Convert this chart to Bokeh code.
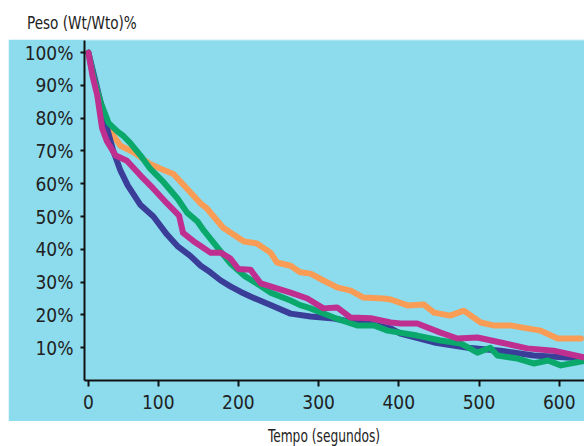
from bokeh.plotting import figure
from bokeh.models import Div, FixedTicker, Range1d
from bokeh.layouts import column
from bokeh.embed import file_html
from bokeh.resources import INLINE

# ---- data (seconds, weight %) ----
navy_t = [13, 20, 26, 35, 44, 53, 62, 78, 94, 111, 124, 140, 153, 165, 178, 190, 203, 215, 240, 265, 290, 319, 340, 361, 390, 402, 444, 486, 527, 568, 610, 632]
navy_v = [100, 93, 87, 78, 70, 64, 59.5, 53.5, 50, 44.5, 41, 38, 35, 33, 30.5, 28.7, 27, 25.6, 23, 20.4, 19.5, 18.9, 17.9, 17.4, 15.9, 14.3, 11.6, 10, 9.1, 7.6, 7, 6.8]

green_t = [13, 20, 28, 38, 49, 57, 65, 78, 90, 107, 124, 136, 149, 157, 174, 190, 207, 223, 240, 265, 277, 290, 319, 348, 369, 386, 423, 452, 477, 498, 514, 523, 548, 568, 586, 602, 627, 632]
green_v = [100, 92, 85, 78.6, 76, 74.5, 72.5, 68.6, 64.6, 60.4, 55.5, 51.2, 48.5, 45.7, 40.5, 35.7, 32, 29.6, 26.8, 24.4, 23, 22, 19.2, 16.8, 16.8, 15.2, 13.7, 12.2, 11.3, 8.5, 10, 7.6, 6.7, 5.2, 6.1, 4.6, 5.8, 6]

magenta_t = [13, 18, 24, 30, 36, 47, 61, 78, 94, 111, 126, 131, 144, 153, 165, 178, 190, 200, 215, 228, 244, 265, 286, 306, 323, 340, 365, 390, 402, 423, 452, 473, 498, 527, 560, 593, 632]
magenta_v = [100, 93, 87, 77, 73, 68.6, 67, 62.5, 58.5, 54, 50.3, 45, 42.5, 41, 39, 39, 37.2, 34, 33.8, 29.6, 28.4, 26.8, 25, 22, 22.3, 19.2, 19, 17.7, 17.4, 17.4, 14.6, 12.8, 13.1, 11.6, 9.8, 9.1, 7]

orange_t = [13, 20, 28, 36, 43, 53, 70, 90, 103, 119, 136, 153, 161, 181, 207, 223, 240, 248, 265, 277, 290, 306, 323, 340, 356, 381, 390, 411, 431, 444, 464, 481, 502, 518, 539, 560, 577, 598, 627]
orange_v = [100, 92, 85, 79, 75, 71.6, 69.5, 66, 64.6, 63, 58.5, 54, 52.4, 46.6, 42.4, 41.8, 39, 36, 35, 33, 32.6, 30.5, 28.4, 27.4, 25.3, 25, 24.7, 22.9, 23.2, 20.7, 19.8, 21.3, 17.7, 16.8, 16.8, 15.9, 15.2, 12.8, 12.8]

x_ticks = [13, 100, 200, 300, 400, 500, 600]
x_tick_labels = ["0", "100", "200", "300", "400", "500", "600"]
y_ticks = [10, 20, 30, 40, 50, 60, 70, 80, 90, 100]
y_tick_labels = ["10%", "20%", "30%", "40%", "50%", "60%", "70%", "80%", "90%", "100%"]

FONT = "DejaVu Sans Condensed"
BG = "#8cdcee"

title = Div(text="Peso (Wt/Wto)%", width=576, height=31, margin=0,
            styles={"font-family": FONT, "font-size": "18px", "color": "#222",
                    "padding-left": "19px", "padding-top": "5px", "line-height": "20px",
                    "transform": "scaleX(0.84)", "transform-origin": "19px 0"})

p = figure(width=576, height=382, output_backend="svg", toolbar_location=None,
           x_range=Range1d(8.1, 631.5), y_range=Range1d(0, 103.7),
           min_border_left=76, min_border_right=0, min_border_top=1, min_border_bottom=41)
p.background_fill_color = BG
p.border_fill_color = BG
p.outline_line_color = None
p.grid.grid_line_color = None

for t, v, c in [(orange_t, orange_v, "#f99c55"), (navy_t, navy_v, "#3a3e98"),
                (green_t, green_v, "#0aa86a"), (magenta_t, magenta_v, "#be2f8f")]:
    p.line(t, v, line_color=c, line_width=6, line_join="round", line_cap="round")

p.xaxis.ticker = FixedTicker(ticks=x_ticks)
p.xaxis.major_label_overrides = dict(zip(x_ticks, x_tick_labels))
p.yaxis.ticker = FixedTicker(ticks=y_ticks)
p.yaxis.major_label_overrides = dict(zip(y_ticks, y_tick_labels))
for ax in (p.xaxis, p.yaxis):
    ax.axis_line_color = "#111"
    ax.axis_line_width = 2
    ax.major_tick_line_color = "#111"
    ax.major_tick_line_width = 2
    ax.minor_tick_line_color = None
    ax.major_label_text_font = FONT
    ax.major_label_text_font_size = "19px"
    ax.major_label_text_color = "#222"
p.xaxis.major_tick_out = 6
p.xaxis.major_tick_in = 0
p.yaxis.major_tick_out = 4
p.yaxis.major_tick_in = 0
p.xaxis.major_label_standoff = 8
p.yaxis.major_label_standoff = 7

xlabel = Div(text="Tempo (segundos)", width=576, height=25, margin=0,
             styles={"font-family": FONT, "font-size": "17px", "color": "#222",
                     "padding-left": "260px", "padding-top": "5px", "line-height": "20px",
                     "transform": "scaleX(0.8)", "transform-origin": "260px 0"})

layout = column(title, p, xlabel, spacing=0, margin=(8, 0, 0, 8))
open("out.html", "w").write(file_html(layout, INLINE))
